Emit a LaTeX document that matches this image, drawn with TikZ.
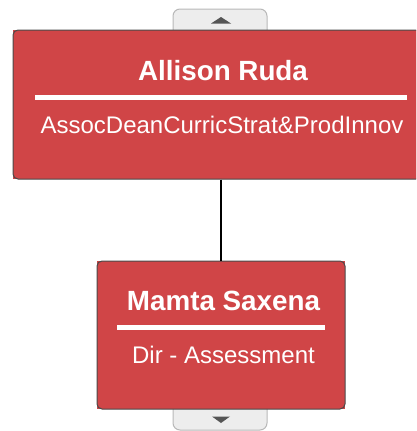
\documentclass[tikz,border=0pt]{standalone}
\usepackage{fontspec}
\setmainfont{Liberation Sans}
\usetikzlibrary{positioning,calc}
\definecolor{cardred}{HTML}{D04547}
\definecolor{cardedge}{HTML}{4A4A4A}
\definecolor{tabfill}{HTML}{EDEDED}
\definecolor{tabedge}{HTML}{B8B8B8}
\definecolor{arrowgray}{HTML}{555555}
\tikzset{
  card/.style={rectangle, rounded corners=5pt, fill=cardred, draw=cardedge, line width=1pt, inner sep=0pt},
  tab/.style={rectangle, rounded corners=7pt, fill=tabfill, draw=tabedge, line width=1pt, inner sep=0pt, minimum width=94pt, minimum height=30pt},
  personname/.style={text=white, font=\bfseries\fontsize{27.8}{28}\selectfont, anchor=base, inner sep=0pt},
  jobtitle/.style={text=white, font=\fontsize{24}{24}\selectfont, anchor=base, inner sep=0pt},
  bar/.style={draw=white, line width=5pt},
  link/.style={draw=black, line width=2pt}
}
\begin{document}
\begin{tikzpicture}[x=1pt,y=-1pt]
\useasboundingbox (0,0) rectangle (416,431);
\clip (0,0) rectangle (416,431);
% expand / collapse tabs
\node[tab] (uptab) at (220,24) {};
\fill[arrowgray] (211,23.5) -- (231,23.5) -- (221,17) -- cycle;
\node[tab] (downtab) at (220,415) {};
\fill[arrowgray] (212,416.5) -- (230,416.5) -- (221,423) -- cycle;
% top card
\fill[cardred] (13,30) rectangle (429,179);
\node[card, minimum width=416pt, minimum height=149pt] (ruda) at (221,104.5) {};
\node[personname] (rudaname) at (223,80) {Allison Ruda};
\draw[bar] (35,97) -- (407,97);
\node[jobtitle] (rudajob) at (222,133) {AssocDeanCurricStrat\&ProdInnov};
% bottom card
\fill[cardred] (97,261) rectangle (345,409);
\node[card, minimum width=248pt, minimum height=148pt] (saxena) at (221,335) {};
\node[personname] (saxenaname) at (223.5,310) {Mamta Saxena};
\draw[bar] (117,327) -- (325,327);
\node[jobtitle] (saxenajob) at (223.5,363) {Dir - Assessment};
\draw[link] (ruda) -- (saxena);
\end{tikzpicture}
\end{document}
